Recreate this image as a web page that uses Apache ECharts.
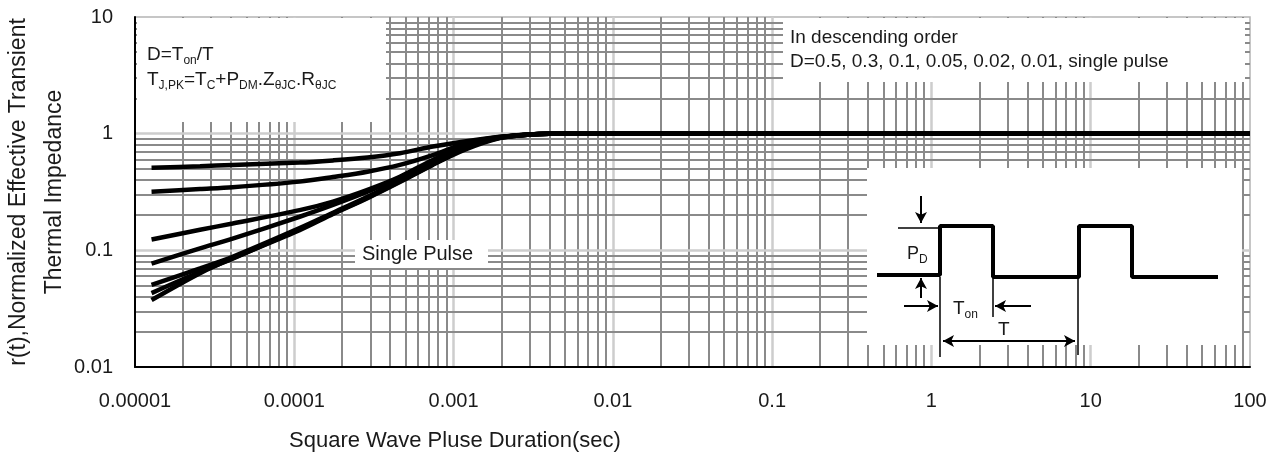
<!DOCTYPE html>
<html><head><meta charset="utf-8">
<script src="https://cdn.jsdelivr.net/npm/echarts@6/dist/echarts.min.js"></script>
<style>html,body{margin:0;padding:0;background:#fff}#c{width:1273px;height:454px}</style>
</head><body><div id="c"></div>
<script>
// ---- tick labels ----
const xTickExp = [-5, -4, -3, -2, -1, 0, 1, 2];
const xTickLabels = ['0.00001', '0.0001', '0.001', '0.01', '0.1', '1', '10', '100'];
const yTickExp = [-2, -1, 0, 1];
const yTickLabels = ['0.01', '0.1', '1', '10'];

// ---- series (pulse duration in sec, normalized impedance) ----
const durations = [1.27e-5, 2.56e-5, 4.1e-5, 1.08e-4, 1.75e-4, 2.88e-4, 4.6e-4, 7.4e-4, 1.2e-3, 1.95e-3, 2.9e-3, 4e-3, 100];
const seriesNames = ['D=0.5', 'D=0.3', 'D=0.1', 'D=0.05', 'D=0.02', 'D=0.01', 'Single Pulse'];
const d050 = [0.51, 0.525, 0.54, 0.565, 0.59, 0.625, 0.68, 0.775, 0.86, 0.94, 0.98, 1, 1];
const d030 = [0.318, 0.335, 0.347, 0.388, 0.425, 0.472, 0.54, 0.655, 0.83, 0.935, 0.98, 1, 1];
const d010 = [0.124, 0.15, 0.17, 0.221, 0.262, 0.33, 0.427, 0.595, 0.8, 0.93, 0.98, 1, 1];
const d005 = [0.077, 0.104, 0.126, 0.194, 0.245, 0.318, 0.42, 0.58, 0.795, 0.93, 0.98, 1, 1];
const d002 = [0.0505, 0.07, 0.088, 0.155, 0.21, 0.288, 0.395, 0.555, 0.78, 0.925, 0.98, 1, 1];
const d001 = [0.043, 0.0655, 0.085, 0.152, 0.207, 0.283, 0.39, 0.545, 0.76, 0.92, 0.98, 1, 1];
const single = [0.0375, 0.0637, 0.0855, 0.149, 0.205, 0.28, 0.385, 0.54, 0.735, 0.915, 0.98, 1, 1];
const allValues = [d050, d030, d010, d005, d002, d001, single];

// ---- inset schematic (schematic units) ----
const waveX = [10, 73, 73, 126, 126, 212, 212, 265, 265, 351];
const waveY = [107, 107, 58, 58, 109, 109, 58, 58, 109, 109];

// ---- grid line positions ----
const mantissas = [2, 3, 4, 5, 6, 7, 8, 9];
const xDecades = [-5, -4, -3, -2, -1, 0, 1];
const yDecades = [-2, -1, 0];
const X_MIN = 1e-5, X_MAX = 100, Y_MIN = 0.01, Y_MAX = 10;

const FONT = 'Liberation Sans, Arial, sans-serif';
const TXT = '#1a1a1a';
const minorStyle = { color: '#8a8a8a', width: 2, type: 'solid' };
const majorStyle = { color: '#cdcdcd', width: 2.5, type: 'solid' };

const gridLines = [];
function vline(v, st) { gridLines.push([{ coord: [v, Y_MIN], lineStyle: st }, { coord: [v, Y_MAX] }]); }
function hline(v, st) { gridLines.push([{ coord: [X_MIN, v], lineStyle: st }, { coord: [X_MAX, v] }]); }
xDecades.forEach(function (d) {
  if (d > -5) vline(Math.pow(10, d), majorStyle);
  mantissas.forEach(function (m) { vline(m * Math.pow(10, d), minorStyle); });
});
yDecades.forEach(function (d) {
  if (d > -2) hline(Math.pow(10, d), majorStyle);
  mantissas.forEach(function (m) { hline(m * Math.pow(10, d), minorStyle); });
});

function expLabel(exps, labels) {
  return function (v) {
    const k = exps.indexOf(Math.round(Math.log10(v)));
    return k >= 0 ? labels[k] : '';
  };
}

const series = [{
  name: 'grid', type: 'line', xAxisIndex: 0, yAxisIndex: 0, data: [], silent: true,
  markLine: { silent: true, z: 1, symbol: ['none', 'none'], label: { show: false }, animation: false, emphasis: { disabled: true }, data: gridLines }
}];
allValues.forEach(function (vals, i) {
  series.push({
    name: seriesNames[i], type: 'line', xAxisIndex: 0, yAxisIndex: 0,
    data: durations.map(function (t, j) { return [t, vals[j]]; }),
    showSymbol: false, smooth: 0.3, z: 5,
    lineStyle: { color: '#000', width: 4.5 }, animation: false
  });
});

const thin = { color: '#000', width: 1.5, type: 'solid' };
const arrowStyle = { color: '#000', width: 2, type: 'solid' };
function seg(a, b, style, sym) {
  return [{ coord: a, symbol: sym ? sym[0] : 'none', lineStyle: style }, { coord: b, symbol: sym ? sym[1] : 'none' }];
}
series.push({
  name: 'schematic', type: 'line', xAxisIndex: 1, yAxisIndex: 1, clip: false,
  data: waveX.map(function (x, i) { return [x, waveY[i]]; }),
  showSymbol: false, z: 6, animation: false, silent: true,
  lineStyle: { color: '#000', width: 4 },
  markLine: {
    silent: true, z: 6, animation: false, label: { show: false }, symbolSize: [9, 11], emphasis: { disabled: true },
    data: [
      seg([31, 60], [73, 60], thin),
      seg([73, 109], [73, 189], thin),
      seg([126, 109], [126, 149], thin),
      seg([211, 109], [211, 187], thin),
      seg([54, 28], [54, 55], arrowStyle, ['none', 'arrow']),
      seg([54, 130], [54, 110], arrowStyle, ['none', 'arrow']),
      seg([37, 138], [71, 138], arrowStyle, ['none', 'arrow']),
      seg([164, 138], [128, 138], arrowStyle, ['none', 'arrow']),
      seg([76, 173], [208, 173], arrowStyle, ['arrow', 'arrow'])
    ]
  }
});

function rect(x1, y1, x2, y2) {
  return { type: 'rect', z: 3, silent: true, shape: { x: x1, y: y1, width: x2 - x1, height: y2 - y1 }, style: { fill: '#fff' } };
}
const nStyle = { fontSize: 19, lineHeight: 24, fontFamily: FONT, fill: TXT };
const sStyle = { fontSize: 12, lineHeight: 10, verticalAlign: 'bottom', fontFamily: FONT, fill: TXT };
function rtext(x, y, text, size) {
  return {
    type: 'text', z: 10, silent: true, x: x, y: y,
    style: {
      text: text, verticalAlign: 'middle', align: 'left',
      rich: { n: Object.assign({}, nStyle, size ? { fontSize: size } : {}), s: sStyle }
    }
  };
}

const option = {
  animation: false,
  backgroundColor: '#fff',
  title: {
    text: 'Square Wave Pluse Duration(sec)', left: 289, top: 430, padding: 0,
    textStyle: { fontSize: 22, fontWeight: 'normal', color: TXT, fontFamily: FONT }
  },
  grid: [
    { left: 135, right: 23, top: 17, bottom: 87, show: true, borderColor: '#b4b4b4', borderWidth: 1.5, backgroundColor: 'transparent', containLabel: false, outerBoundsMode: 'none' },
    { left: 867, top: 168, width: 375, height: 199, show: false, containLabel: false, outerBoundsMode: 'none' }
  ],
  xAxis: [
    {
      type: 'log', logBase: 10, min: X_MIN, max: X_MAX, splitNumber: 7, gridIndex: 0, z: 8,
      axisLine: { show: true, onZero: false, lineStyle: { color: '#000', width: 2 } },
      axisTick: { show: false }, splitLine: { show: false }, minorTick: { show: false },
      axisLabel: { margin: 24, fontSize: 20, color: TXT, fontFamily: FONT, showMinLabel: true, showMaxLabel: true, formatter: expLabel(xTickExp, xTickLabels) }
    },
    { type: 'value', gridIndex: 1, min: 0, max: 375, show: false }
  ],
  yAxis: [
    {
      type: 'log', logBase: 10, min: Y_MIN, max: Y_MAX, splitNumber: 3, gridIndex: 0, z: 8,
      axisLine: { show: true, onZero: false, lineStyle: { color: '#000', width: 2 } },
      axisTick: { show: false }, splitLine: { show: false }, minorTick: { show: false },
      axisLabel: { margin: 22, fontSize: 20, color: TXT, fontFamily: FONT, showMinLabel: true, showMaxLabel: true, formatter: expLabel(yTickExp, yTickLabels) },
      name: 'r(t),Normalized Effective Transient\nThermal Impedance', nameLocation: 'middle', nameGap: 62, nameMoveOverlap: false,
      nameTextStyle: { fontSize: 23, lineHeight: 36, color: TXT, fontFamily: FONT }
    },
    { type: 'value', gridIndex: 1, min: 0, max: 199, inverse: true, show: false }
  ],
  graphic: [
    rect(137, 18, 386, 122),
    rect(783, 18, 1245, 82),
    rect(867, 168, 1242, 345),
    rect(355, 240, 488, 268),
    rtext(147, 55, '{n|D=T}{s|on}{n|/T}'),
    rtext(147, 80, '{n|T}{s|J,PK}{n|=T}{s|C}{n|+P}{s|DM}{n|.Z}{s|θJC}{n|.R}{s|θJC}'),
    rtext(790, 38, '{n|In descending order}'),
    rtext(790, 62, '{n|D=0.5, 0.3, 0.1, 0.05, 0.02, 0.01, single pulse}'),
    rtext(362, 254, '{n|Single Pulse}', 20),
    rtext(907, 254, '{n|P}{s|D}', 18),
    rtext(953, 309, '{n|T}{s|on}', 19),
    rtext(998, 330, '{n|T}', 19)
  ],
  series: series
};

const chart = echarts.init(document.getElementById('c'), null, { renderer: 'canvas' });
chart.setOption(option);
</script>
</body></html>
